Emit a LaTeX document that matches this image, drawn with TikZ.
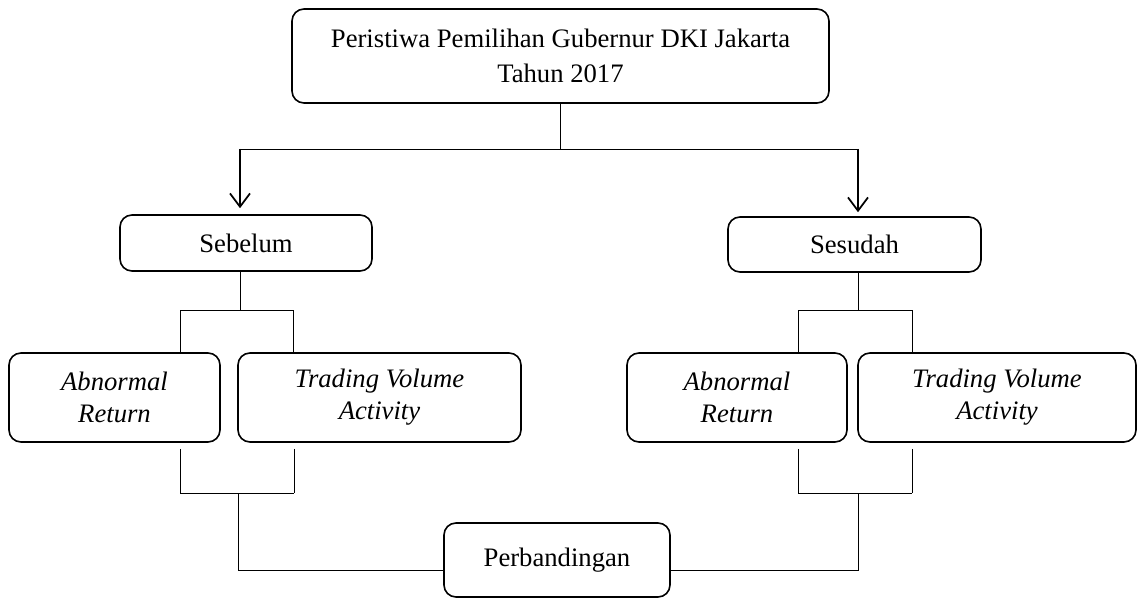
\documentclass[tikz,border=0pt]{standalone}
\usepackage{fontspec}
\setmainfont{Liberation Serif}
\usetikzlibrary{arrows.meta}
\begin{document}
\begin{tikzpicture}[x=0.75pt,y=-0.75pt,
  box/.style={draw, line width=1.2pt, rounded corners=9pt, align=center,
    inner sep=0pt, font=\fontsize{20}{24}\selectfont},
  conn/.style={line width=0.7pt},
  arr/.style={line width=1.3pt, -{Straight Barb[length=10pt,width=15pt,line width=1.3pt]}}]
\useasboundingbox (0,0) rectangle (1139,599);
% boxes
\node[box, minimum width=402.75pt, minimum height=70.5pt, font=\fontsize{20}{26}\selectfont] (top) at (560.5,56) {Peristiwa Pemilihan Gubernur DKI Jakarta\\Tahun 2017};
\node[box, minimum width=189pt, minimum height=42pt] (seb) at (246,243) {Sebelum};
\node[box, minimum width=189.75pt, minimum height=41.25pt] (ses) at (854.5,244.5) {Sesudah};
\node[box, minimum width=158.25pt, minimum height=66.75pt] (ab1) at (114.5,397.5) {\itshape Abnormal\\\itshape Return};
\node[box, minimum width=212.25pt, minimum height=66.75pt] (tv1) at (379.5,397.5) {\itshape Trading Volume\\\itshape Activity};
\node[box, minimum width=165pt, minimum height=66.75pt] (ab2) at (737,397.5) {\itshape Abnormal\\\itshape Return};
\node[box, minimum width=208.5pt, minimum height=66.75pt] (tv2) at (997,397.5) {\itshape Trading Volume\\\itshape Activity};
\node[box, minimum width=169.5pt, minimum height=55.5pt] (per) at (557,560) {Perbandingan};
% junctions
\coordinate (jt) at (560,149);
\coordinate (jl) at (240,149);
\coordinate (jr) at (858,149);
\coordinate (bl) at (240,310);
\coordinate (bl1) at (180,310);
\coordinate (bl2) at (293,310);
\coordinate (br) at (858,310);
\coordinate (br1) at (798,310);
\coordinate (br2) at (912,310);
\coordinate (cl) at (238,493);
\coordinate (cl1) at (180,493);
\coordinate (cl2) at (294,493);
\coordinate (cr) at (858,493);
\coordinate (cr1) at (798,493);
\coordinate (cr2) at (912,493);
\coordinate (dl) at (238,570);
\coordinate (dr) at (858,570);
% top connectors
\draw[conn] (top.south -| jt) -- (jt);
\draw[conn] (jl) -- (jr);
\draw[arr, shorten >=4.5pt] (jl) -- (seb.north -| jl);
\draw[arr, shorten >=3pt] (jr) -- (ses.north -| jr);
% left brackets
\draw[conn] (seb.south -| bl) -- (bl);
\draw[conn] (ab1.north -| bl1) -- (bl1) -- (bl2) -- (tv1.north -| bl2);
\draw[conn, shorten <=4.5pt] (ab1.south -| cl1) -- (cl1);
\draw[conn] (cl1) -- (cl2);
\draw[conn, shorten <=4.5pt] (tv1.south -| cl2) -- (cl2);
\draw[conn] (cl) -- (dl) -- (dl -| per.west);
% right brackets
\draw[conn] (ses.south -| br) -- (br);
\draw[conn] (ab2.north -| br1) -- (br1) -- (br2) -- (tv2.north -| br2);
\draw[conn, shorten <=4.5pt] (ab2.south -| cr1) -- (cr1);
\draw[conn] (cr1) -- (cr2);
\draw[conn, shorten <=4.5pt] (tv2.south -| cr2) -- (cr2);
\draw[conn] (cr) -- (dr) -- (dr -| per.east);
\end{tikzpicture}
\end{document}
